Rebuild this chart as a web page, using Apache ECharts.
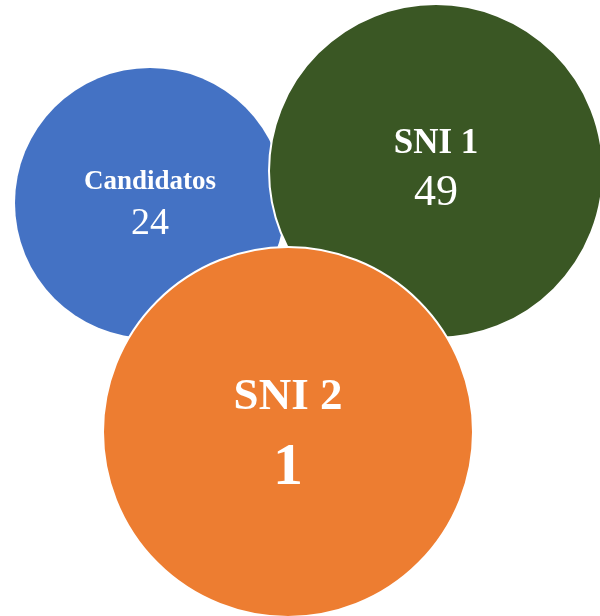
<!DOCTYPE html>
<html>
<head>
<meta charset="utf-8">
<script src="https://cdn.jsdelivr.net/npm/echarts@6/dist/echarts.min.js"></script>
<style>
  html, body { margin: 0; padding: 0; background: #ffffff; }
</style>
</head>
<body>
<div id="myCharts" style="width:600px;height:616px;"></div>
<script>
// data
var categories = ["Candidatos", "SNI 1", "SNI 2"];
var values = [24, 49, 1];

// layout of the bubbles (pixel space of the 600x616 canvas)
var layout = [
  { x: 150, y: 203, size: 270, color: "#4472C4", name: 27, value: 38, nameLh: 40, valueLh: 44, valueBold: false, offset: 1 },
  { x: 436, y: 171, size: 334, color: "#3A5724", name: 35, value: 44, nameLh: 46, valueLh: 52, valueBold: false, offset: -1 },
  { x: 288, y: 432, size: 370, color: "#ED7D31", name: 45, value: 60, nameLh: 60, valueLh: 82, valueBold: true, offset: 6 }
];

var serif = '"Liberation Serif", "Times New Roman", serif';

var seriesData = categories.map(function (c, i) {
  var l = layout[i];
  return {
    name: c,
    value: [l.x, l.y, values[i]],
    symbolSize: l.size,
    itemStyle: {
      color: l.color,
      opacity: 1,
      borderColor: "#ffffff",
      borderWidth: i === 0 ? 0 : 2
    },
    label: {
      show: true,
      position: "inside",
      offset: [0, l.offset],
      formatter: "{a|" + c + "}\n{b|" + values[i] + "}",
      rich: {
        a: { fontFamily: serif, fontWeight: "bold", fontSize: l.name, lineHeight: l.nameLh, color: "#ffffff", align: "center" },
        b: { fontFamily: serif, fontWeight: l.valueBold ? "bold" : "normal", fontSize: l.value, lineHeight: l.valueLh, color: "#ffffff", align: "center" }
      }
    }
  };
});

var myChart = echarts.init(document.getElementById("myCharts"));
var option = {
  animation: false,
  backgroundColor: "#ffffff",
  grid: { left: 0, right: 0, top: 0, bottom: 0 },
  xAxis: { type: "value", min: 0, max: 600, show: false },
  yAxis: { type: "value", min: 0, max: 616, inverse: true, show: false },
  series: [
    {
      type: "scatter",
      symbol: "circle",
      data: seriesData,
      emphasis: { disabled: true }
    }
  ]
};
myChart.setOption(option);
</script>
</body>
</html>
